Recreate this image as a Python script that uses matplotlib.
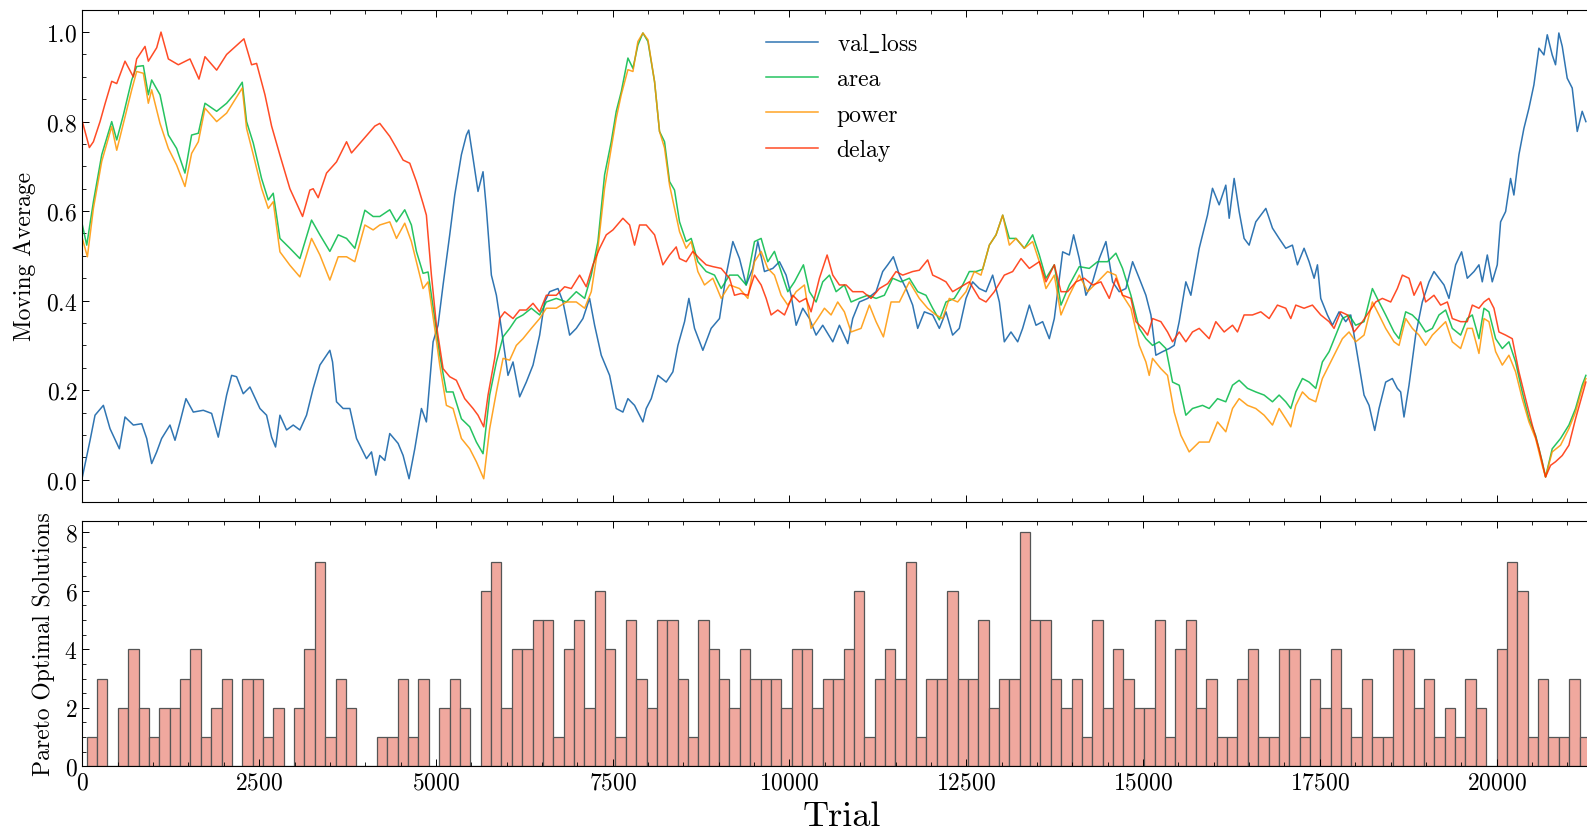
import numpy as np
import matplotlib
matplotlib.use("Agg")
import matplotlib.pyplot as plt
from matplotlib.ticker import MultipleLocator

# ---------------------------------------------------------------
# moving averages (normalised)
# ---------------------------------------------------------------
loss_trial = [0, 109, 179, 297, 391, 523, 603, 721, 839, 910,
              980, 1051, 1121, 1239, 1310, 1381, 1465, 1569, 1710, 1828,
              1922, 2040, 2111, 2181, 2275, 2370, 2511, 2605, 2676, 2732,
              2794, 2888, 2982, 3076, 3170, 3264, 3359, 3500, 3538, 3594,
              3688, 3783, 3877, 4018, 4089, 4150,
              4206, 4277, 4347, 4465, 4536, 4620, 4701, 4795, 4865, 4960,
              5030, 5101, 5195, 5266, 5360, 5431, 5464, 5525, 5595, 5666,
              5713, 5784, 5855, 5925, 6019, 6090, 6184, 6278, 6373, 6467,
              6537, 6608, 6726, 6797, 6891, 6985, 7079, 7173, 7244, 7338,
              7456, 7550, 7644, 7715, 7809, 7927, 7974, 8045, 8139, 8257,
              8351, 8422,
              8516, 8577, 8657, 8775, 8892, 9010, 9104, 9199, 9293, 9387,
              9481, 9552, 9646, 9764, 9858, 9952, 10023, 10094, 10188, 10282,
              10376, 10470, 10612, 10706, 10824, 10894, 10988, 11106, 11224, 11318,
              11389, 11469, 11554, 11648, 11742, 11813, 11907, 12025, 12119, 12213,
              12307, 12401, 12496, 12590, 12684,
              12779, 12873, 12968, 13038, 13132, 13227, 13297, 13392, 13486, 13580,
              13674, 13745, 13863, 13957, 14018, 14098, 14192, 14286, 14381, 14475,
              14569, 14663, 14757, 14852, 14946, 15040, 15111, 15181, 15276, 15370,
              15440, 15511, 15605, 15676, 15794, 15911, 15982, 16076, 16170, 16218,
              16288, 16359, 16429, 16500, 16594, 16736, 16830, 16924,
              17018, 17112, 17183, 17277, 17348, 17419, 17466, 17513, 17607, 17678,
              17772, 17866, 17937, 18031, 18125, 18196, 18276, 18337, 18431, 18525,
              18596, 18643, 18690, 18761, 18855, 18949, 19044, 19114, 19185, 19256,
              19326, 19420, 19505, 19585, 19680, 19750, 19797, 19868, 19938, 20009,
              20056, 20127, 20197, 20244, 20315, 20386, 20457, 20527, 20598, 20669,
              20716, 20786, 20833, 20880, 20928, 20998, 21069, 21140, 21210, 21262]
loss_val = [0.006, 0.088, 0.144, 0.166, 0.114, 0.069, 0.14, 0.122, 0.125, 0.092,
            0.036, 0.062, 0.092, 0.122, 0.088, 0.129, 0.181, 0.151, 0.155, 0.148,
            0.095, 0.189, 0.233, 0.23, 0.192, 0.207, 0.159, 0.144, 0.095, 0.073,
            0.144, 0.111, 0.122, 0.111, 0.144, 0.204, 0.256, 0.289, 0.263, 0.174,
            0.159, 0.159, 0.092, 0.047, 0.062, 0.01,
            0.054, 0.043, 0.103, 0.081, 0.054, 0.002, 0.069, 0.159, 0.129, 0.308,
            0.345, 0.435, 0.547, 0.636, 0.726, 0.77, 0.781, 0.718, 0.644, 0.688,
            0.606, 0.457, 0.412, 0.338, 0.233, 0.263, 0.185, 0.218, 0.256, 0.323,
            0.397, 0.42, 0.427, 0.397, 0.323, 0.338, 0.36, 0.405, 0.345, 0.278,
            0.233, 0.159, 0.151, 0.181, 0.166, 0.129, 0.159, 0.181, 0.233, 0.218,
            0.241, 0.30,
            0.353, 0.405, 0.338, 0.289, 0.338, 0.36, 0.457, 0.532, 0.494, 0.435,
            0.472, 0.532, 0.465, 0.472, 0.487, 0.457, 0.412, 0.345, 0.383, 0.36,
            0.323, 0.345, 0.308, 0.345, 0.304, 0.36, 0.397, 0.405, 0.42, 0.465,
            0.48, 0.498, 0.457, 0.427, 0.39, 0.338, 0.375, 0.368, 0.338, 0.375,
            0.323, 0.338, 0.405, 0.442, 0.427,
            0.42, 0.457, 0.397, 0.308, 0.33, 0.308, 0.338, 0.39, 0.345, 0.353,
            0.315, 0.36, 0.509, 0.502, 0.547, 0.494, 0.412, 0.442, 0.494, 0.532,
            0.442, 0.42, 0.427, 0.487, 0.45, 0.412, 0.368, 0.278, 0.286, 0.293,
            0.30, 0.353, 0.442, 0.412, 0.517, 0.591, 0.651, 0.614, 0.658, 0.584,
            0.673, 0.599, 0.539, 0.524, 0.576, 0.606, 0.562, 0.539,
            0.517, 0.524, 0.48, 0.517, 0.487, 0.45, 0.48, 0.405, 0.368, 0.345,
            0.375, 0.353, 0.368, 0.278, 0.189, 0.166, 0.11, 0.159, 0.218, 0.226,
            0.204, 0.196, 0.14, 0.211, 0.323, 0.397, 0.442, 0.465, 0.45, 0.435,
            0.405, 0.48, 0.509, 0.45, 0.465, 0.48, 0.442, 0.502, 0.442, 0.48,
            0.576, 0.599, 0.673, 0.636, 0.726, 0.785, 0.83, 0.882, 0.964, 0.949,
            0.994, 0.949, 0.927, 0.998, 0.968, 0.897, 0.875, 0.778, 0.823, 0.80]

area_trial = [0, 62, 156, 274, 415, 486, 580, 698, 768, 862,
              933, 980, 1098, 1216, 1333, 1451, 1545, 1640, 1734, 1899,
              2040, 2158, 2261, 2322, 2417, 2534, 2629, 2699, 2794, 2935,
              3076, 3241, 3359, 3500, 3618, 3736, 3853, 3995, 4112,
              4206, 4347, 4442, 4559, 4653, 4724, 4818, 4889, 4983, 5054,
              5148, 5242, 5360, 5478, 5572, 5666, 5760, 5855, 5949, 6043,
              6137, 6231, 6349, 6467, 6561, 6702, 6844, 6985, 7103, 7197,
              7291, 7385, 7479, 7550, 7621, 7715, 7786, 7856, 7927, 7998,
              8092, 8162, 8233, 8304, 8374,
              8445, 8539, 8610, 8704, 8822, 8940, 9034, 9152, 9269, 9387,
              9505, 9599, 9693, 9787, 9882, 9976, 10070, 10197, 10282, 10376,
              10470, 10565, 10659, 10776, 10871, 10988, 11106, 11224, 11342, 11459,
              11577, 11695, 11813, 11930, 12025, 12119, 12213, 12331, 12449, 12543,
              12637,
              12732, 12826, 12921, 13015, 13109, 13203, 13321, 13439, 13533, 13627,
              13745, 13839, 13957, 14098, 14239, 14357, 14498, 14616, 14710, 14828,
              14946, 15040, 15134, 15228, 15323, 15417, 15511, 15605, 15699, 15841,
              15935, 16053, 16170, 16265, 16359, 16477, 16594, 16712, 16830,
              16924, 17018, 17089, 17160, 17254, 17348, 17442, 17536, 17631, 17725,
              17819, 17913, 18007, 18125, 18243, 18337, 18431, 18549, 18620, 18714,
              18808, 18902, 18996, 19091, 19185, 19279, 19373, 19491, 19585, 19656,
              19750, 19821, 19891, 19986, 20080, 20174, 20268, 20362, 20457, 20551,
              20645, 20692, 20786, 20904, 21022, 21116, 21210, 21262]
area_val = [0.569, 0.524, 0.621, 0.726, 0.80, 0.759, 0.815, 0.893, 0.923, 0.925,
            0.86, 0.893, 0.86, 0.77, 0.74, 0.685, 0.77, 0.774, 0.841, 0.823,
            0.841, 0.863, 0.888, 0.80, 0.752, 0.673, 0.625, 0.64, 0.539, 0.517,
            0.494, 0.58, 0.547, 0.51, 0.547, 0.539, 0.517, 0.602, 0.588,
            0.588, 0.603, 0.576, 0.603, 0.569, 0.51, 0.461, 0.464, 0.36, 0.278,
            0.196, 0.196, 0.136, 0.118, 0.084, 0.058, 0.189, 0.263, 0.319, 0.338,
            0.36, 0.368, 0.383, 0.368, 0.397, 0.405, 0.397, 0.42, 0.405, 0.457,
            0.532, 0.681, 0.755, 0.823, 0.867, 0.942, 0.919, 0.971, 0.998, 0.979,
            0.889, 0.778, 0.755, 0.666, 0.647,
            0.576, 0.532, 0.539, 0.487, 0.465, 0.457, 0.427, 0.457, 0.457, 0.435,
            0.532, 0.539, 0.487, 0.51, 0.465, 0.42, 0.442, 0.48, 0.42, 0.397,
            0.442, 0.457, 0.42, 0.435, 0.397, 0.405, 0.412, 0.405, 0.412, 0.45,
            0.442, 0.45, 0.42, 0.412, 0.383, 0.357, 0.397, 0.405, 0.435, 0.465,
            0.465,
            0.47, 0.524, 0.547, 0.591, 0.539, 0.539, 0.517, 0.547, 0.502, 0.45,
            0.48, 0.39, 0.435, 0.476, 0.472, 0.487, 0.487, 0.506, 0.472, 0.412,
            0.338, 0.315, 0.30, 0.308, 0.293, 0.218, 0.211, 0.144, 0.159, 0.166,
            0.159, 0.181, 0.174, 0.211, 0.222, 0.204, 0.196, 0.189, 0.174,
            0.189, 0.174, 0.159, 0.196, 0.226, 0.218, 0.204, 0.263, 0.286, 0.323,
            0.36, 0.368, 0.345, 0.353, 0.427, 0.397, 0.368, 0.33, 0.315, 0.375,
            0.368, 0.353, 0.33, 0.338, 0.368, 0.379, 0.338, 0.323, 0.36, 0.368,
            0.315, 0.383, 0.375, 0.315, 0.293, 0.308, 0.263, 0.196, 0.136, 0.099,
            0.04, 0.006, 0.069, 0.092, 0.122, 0.159, 0.211, 0.233]

power_trial = [0, 71, 156, 274, 415, 486, 580, 698, 768, 862,
               933, 980, 1098, 1216, 1333, 1451, 1545, 1640, 1734, 1899,
               2040, 2158, 2261, 2322, 2417, 2534, 2629, 2699, 2794, 2935,
               3076, 3241, 3359, 3500, 3618, 3736, 3853, 3995, 4112,
               4206, 4347, 4442, 4559, 4653, 4724, 4818, 4889, 4983, 5054,
               5148, 5242, 5360, 5478, 5572, 5676, 5760, 5855, 5949, 6043,
               6137, 6231, 6349, 6467, 6561, 6702, 6844, 6985, 7103, 7197,
               7291, 7385, 7479, 7550, 7621, 7715, 7786, 7856, 7927, 7998,
               8092, 8162, 8233, 8304, 8374,
               8445, 8539, 8610, 8704, 8798, 8916, 9034, 9152, 9293, 9411,
               9505, 9599, 9693, 9787, 9882, 9976, 10094, 10211, 10305, 10400,
               10494, 10588, 10682, 10776, 10871, 11012, 11130, 11224, 11328, 11436,
               11554, 11695, 11836, 11954, 12072, 12166, 12260, 12378, 12496, 12613,
               12708,
               12826, 12921, 13015, 13109, 13203, 13321, 13439, 13533, 13627, 13745,
               13839, 13957, 14098, 14216, 14357, 14498, 14616, 14710, 14828, 14946,
               15040, 15087, 15134, 15252, 15346, 15440, 15535, 15652, 15794, 15935,
               16053, 16170, 16265, 16359, 16477, 16594, 16712, 16830,
               16924, 17018, 17089, 17160, 17254, 17348, 17442, 17536, 17631, 17725,
               17819, 17913, 18007, 18125, 18243, 18337, 18431, 18549, 18620, 18714,
               18808, 18902, 18996, 19091, 19185, 19279, 19373, 19491, 19585, 19656,
               19750, 19821, 19891, 19986, 20080, 20174, 20268, 20362, 20457, 20551,
               20645, 20692, 20786, 20904, 21022, 21116, 21210, 21262]
power_val = [0.539, 0.498, 0.606, 0.711, 0.789, 0.736, 0.796, 0.871, 0.912, 0.908,
             0.841, 0.871, 0.796, 0.74, 0.703, 0.655, 0.729, 0.755, 0.83, 0.80,
             0.819, 0.849, 0.875, 0.785, 0.726, 0.651, 0.606, 0.621, 0.509, 0.479,
             0.453, 0.539, 0.502, 0.446, 0.498, 0.498, 0.487, 0.569, 0.558,
             0.569, 0.576, 0.539, 0.573, 0.532, 0.487, 0.427, 0.442, 0.338, 0.256,
             0.166, 0.159, 0.092, 0.069, 0.04, 0.002, 0.114, 0.196, 0.271, 0.267,
             0.30, 0.315, 0.338, 0.36, 0.383, 0.383, 0.397, 0.397, 0.383, 0.42,
             0.517, 0.651, 0.741, 0.808, 0.86, 0.916, 0.912, 0.979, 0.998, 0.983,
             0.889, 0.778, 0.741, 0.658, 0.606,
             0.554, 0.517, 0.532, 0.465, 0.435, 0.45, 0.405, 0.435, 0.427, 0.405,
             0.487, 0.51, 0.472, 0.457, 0.412, 0.39, 0.42, 0.435, 0.338, 0.36,
             0.383, 0.368, 0.397, 0.375, 0.33, 0.338, 0.39, 0.353, 0.319, 0.397,
             0.397, 0.442, 0.405, 0.383, 0.368, 0.36, 0.405, 0.397, 0.42, 0.465,
             0.457,
             0.524, 0.547, 0.591, 0.524, 0.539, 0.517, 0.532, 0.487, 0.427, 0.457,
             0.368, 0.412, 0.457, 0.42, 0.442, 0.465, 0.457, 0.412, 0.383, 0.30,
             0.263, 0.233, 0.271, 0.248, 0.233, 0.151, 0.099, 0.062, 0.084, 0.084,
             0.129, 0.107, 0.159, 0.181, 0.166, 0.159, 0.144, 0.122,
             0.159, 0.136, 0.118, 0.166, 0.196, 0.181, 0.174, 0.226, 0.256, 0.286,
             0.315, 0.33, 0.308, 0.323, 0.397, 0.368, 0.338, 0.308, 0.30, 0.36,
             0.338, 0.323, 0.30, 0.323, 0.338, 0.353, 0.308, 0.293, 0.338, 0.338,
             0.282, 0.36, 0.353, 0.286, 0.256, 0.278, 0.241, 0.181, 0.129, 0.092,
             0.032, 0.006, 0.062, 0.077, 0.114, 0.151, 0.204, 0.226]

delay_trial = [0, 99, 156, 250, 321, 415, 486, 603, 721, 768,
               886, 933, 1051, 1112, 1216, 1357, 1522, 1649, 1734, 1899,
               2040, 2181, 2285, 2393, 2464, 2582, 2676, 2794, 2935, 3114,
               3217, 3264, 3335, 3453, 3594, 3736, 3806, 3971, 4136,
               4206, 4347, 4442, 4536, 4630, 4724, 4818, 4865, 4936, 5007,
               5101, 5195, 5289, 5407, 5525, 5595, 5676, 5737, 5831, 5902,
               5972, 6090, 6184, 6278, 6373, 6467, 6561, 6702, 6820, 6914,
               7032, 7126, 7220, 7315, 7409, 7503, 7644, 7739, 7809, 7880,
               7974, 8092, 8210, 8304, 8398,
               8445, 8539, 8633, 8728, 8822, 8916, 9034, 9152, 9222, 9316,
               9411, 9505, 9599, 9670, 9740, 9834, 9929, 10046, 10141, 10235,
               10305, 10423, 10532, 10612, 10706, 10800, 10894, 11036, 11153, 11271,
               11389, 11507, 11601, 11742, 11836, 11954, 12025, 12119, 12213, 12307,
               12425, 12543,
               12685, 12779, 12897, 13038, 13156, 13274, 13392, 13533, 13627, 13745,
               13839, 13933, 14051, 14169, 14286, 14404, 14522, 14616, 14710, 14828,
               14899, 14993, 15064, 15134, 15252, 15346, 15417, 15511, 15605, 15699,
               15794, 15935, 16029, 16147, 16265, 16335, 16429, 16547, 16665, 16783,
               16900,
               17018, 17089, 17160, 17277, 17395, 17513, 17631, 17701, 17795, 17890,
               17984, 18102, 18196, 18290, 18384, 18502, 18596, 18667, 18761, 18832,
               18926, 18996, 19114, 19208, 19303, 19373, 19491, 19585, 19656, 19750,
               19821, 19891, 19962, 20033, 20127, 20221, 20315, 20409, 20504, 20598,
               20692, 20763, 20833, 20928, 21022, 21116, 21210, 21262]
delay_val = [0.80, 0.742, 0.755, 0.80, 0.84, 0.89, 0.885, 0.935, 0.90, 0.94,
             0.968, 0.935, 0.965, 1.0, 0.94, 0.927, 0.94, 0.895, 0.945, 0.915,
             0.95, 0.97, 0.985, 0.927, 0.93, 0.86, 0.79, 0.725, 0.65, 0.588,
             0.647, 0.65, 0.63, 0.685, 0.71, 0.755, 0.73, 0.76, 0.79,
             0.796, 0.767, 0.741, 0.714, 0.707, 0.666, 0.617, 0.591, 0.457, 0.345,
             0.248, 0.23, 0.222, 0.181, 0.159, 0.144, 0.118, 0.189, 0.271, 0.36,
             0.375, 0.36, 0.379, 0.379, 0.394, 0.375, 0.412, 0.412, 0.431, 0.427,
             0.457, 0.431, 0.48, 0.517, 0.547, 0.558, 0.584, 0.569, 0.524, 0.569,
             0.569, 0.547, 0.48, 0.502, 0.52,
             0.494, 0.487, 0.51, 0.494, 0.48, 0.476, 0.472, 0.45, 0.412, 0.416,
             0.412, 0.457, 0.435, 0.405, 0.368, 0.379, 0.368, 0.412, 0.397, 0.405,
             0.375, 0.45, 0.502, 0.457, 0.435, 0.435, 0.42, 0.42, 0.405, 0.427,
             0.438, 0.465, 0.457, 0.465, 0.468, 0.491, 0.457, 0.45, 0.442, 0.42,
             0.431, 0.442,
             0.405, 0.397, 0.42, 0.457, 0.465, 0.494, 0.472, 0.487, 0.442, 0.48,
             0.42, 0.42, 0.442, 0.45, 0.435, 0.442, 0.405, 0.45, 0.412, 0.405,
             0.353, 0.338, 0.323, 0.36, 0.353, 0.33, 0.308, 0.33, 0.308, 0.33,
             0.338, 0.315, 0.353, 0.33, 0.345, 0.33, 0.368, 0.368, 0.375, 0.36,
             0.39,
             0.383, 0.36, 0.39, 0.383, 0.39, 0.368, 0.353, 0.338, 0.375, 0.368,
             0.33, 0.353, 0.375, 0.397, 0.405, 0.397, 0.427, 0.457, 0.45, 0.412,
             0.442, 0.397, 0.412, 0.39, 0.397, 0.36, 0.353, 0.353, 0.39, 0.383,
             0.397, 0.405, 0.383, 0.33, 0.323, 0.315, 0.241, 0.181, 0.122, 0.069,
             0.006, 0.032, 0.04, 0.054, 0.077, 0.136, 0.189, 0.218]

# ---------------------------------------------------------------
# number of pareto optimal solutions per bin of trials
# ---------------------------------------------------------------
bin_start = 62
bin_width = 146.6
pareto_counts = [1, 3, 0, 2, 4, 2, 1, 2, 2, 3, 4, 1, 2, 3, 0, 3, 3, 1, 2, 0,
                 2, 4, 7, 1, 3, 2, 0, 0, 1, 1, 3, 1, 3, 0, 2, 3, 2, 0, 6, 7,
                 2, 4, 4, 5, 5, 1, 4, 5, 2, 6, 4, 1, 5, 3, 2, 5, 5, 3, 1, 5,
                 4, 3, 2, 4, 3, 3, 3, 2, 4, 4, 2, 3, 3, 4, 6, 1, 3, 4, 3, 7,
                 1, 3, 3, 6, 3, 3, 5, 2, 3, 3, 8, 5, 5, 3, 2, 3, 1, 5, 2, 4,
                 3, 2, 2, 5, 1, 4, 5, 2, 3, 1, 1, 3, 4, 1, 1, 4, 4, 1, 3, 2,
                 4, 2, 1, 3, 1, 1, 4, 4, 2, 3, 1, 2, 1, 3, 2, 0, 4, 7, 6, 1,
                 3, 1, 1, 3, 1]

# the underscore goes through mathtext, cmr10 has no plain "_"
series = [(r"val$\_$loss", loss_trial, loss_val, "#0C5DA5"),
          ("area", area_trial, area_val, "#00B945"),
          ("power", power_trial, power_val, "#FF9500"),
          ("delay", delay_trial, delay_val, "#FF2C00")]

# ---------------------------------------------------------------
# style: computer-modern look, ticks inside on all sides
# ---------------------------------------------------------------
plt.rcParams['font.family'] = ['cmr10', 'DejaVu Serif']
plt.rcParams['mathtext.fontset'] = 'cm'
plt.rcParams['axes.formatter.use_mathtext'] = True
plt.rcParams['axes.linewidth'] = 0.8
for a in ('x', 'y'):
    plt.rcParams[a + 'tick.direction'] = 'in'
    plt.rcParams[a + 'tick.major.size'] = 5
    plt.rcParams[a + 'tick.minor.size'] = 2.8
    plt.rcParams[a + 'tick.major.width'] = 0.7
    plt.rcParams[a + 'tick.minor.width'] = 0.6
    plt.rcParams[a + 'tick.labelsize'] = 17
plt.rcParams['xtick.top'] = True
plt.rcParams['ytick.right'] = True

fig = plt.figure(figsize=(15.87, 8.37), dpi=100)
# axes run a bit past the right edge of the picture (as in the reference crop)
ax1 = fig.add_axes([0.0519, 0.3990, 0.9571, 0.5882])
ax2 = fig.add_axes([0.0519, 0.0833, 0.9571, 0.2934], sharex=ax1)

for name, t, v, c in series:
    ax1.plot(t, v, color=c, lw=1.1, alpha=0.85, label=name)

ax1.set_ylim(-0.05, 1.05)
ax1.yaxis.set_major_locator(MultipleLocator(0.2))
ax1.yaxis.set_minor_locator(MultipleLocator(0.05))
ax1.set_ylabel('Moving Average', fontsize=17, labelpad=7)
ax1.tick_params(labelbottom=False)
ax1.legend(loc='upper center', frameon=False, fontsize=17,
           handlelength=2.2, labelspacing=0.56)

edges = bin_start + bin_width * np.arange(len(pareto_counts))
ax2.bar(edges, pareto_counts, width=bin_width, align='edge',
        color='#F0A89E', edgecolor='#555555', linewidth=0.9)
ax2.set_ylim(0, 8.4)
ax2.yaxis.set_major_locator(MultipleLocator(2))
ax2.yaxis.set_minor_locator(MultipleLocator(0.5))
ax2.set_ylabel('Pareto Optimal Solutions', fontsize=17, labelpad=7)
ax2.set_xlabel('Trial', fontsize=26, labelpad=5)

ax2.set_xlim(0, 21480)
ax2.xaxis.set_major_locator(MultipleLocator(2500))
ax2.xaxis.set_minor_locator(MultipleLocator(500))

fig.savefig('out.png', dpi=100)
